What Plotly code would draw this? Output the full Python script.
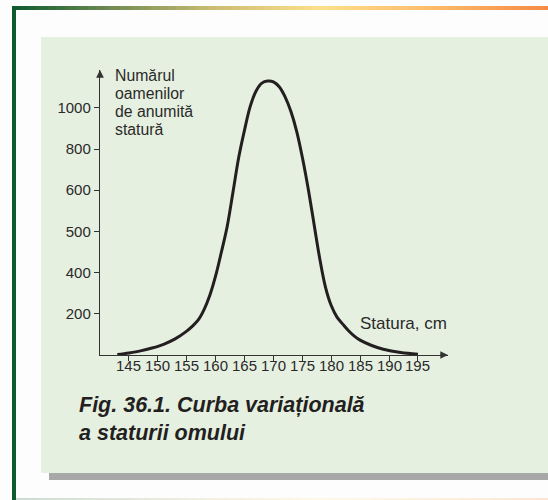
import numpy as np
import plotly.graph_objects as go

W, H = 548, 500

# Height distribution (stature in cm -> number of people)
height_cm = [143, 145, 147, 149, 151, 153, 155, 156, 157, 158,
             159, 160, 161, 162, 163, 164, 165, 166, 167, 168,
             169, 170, 171, 172, 173, 174, 175, 176, 177, 178,
             179, 180, 181, 182, 183, 184, 185, 187, 189, 192, 195]
people = [2, 10, 20, 34, 52, 78, 116, 140, 170, 220,
          290, 384, 450, 512, 595, 760, 892, 1008, 1082, 1120,
          1130, 1126, 1102, 1054, 984, 888, 760, 610, 520, 435,
          330, 240, 184, 150, 118, 92, 72, 46, 28, 12, 4]

x_ticks = [145, 150, 155, 160, 165, 170, 175, 180, 185, 190, 195]
y_ticks = [200, 400, 500, 600, 800, 1000]
# the vertical scale is drawn with evenly spaced, unevenly valued steps
scale_breaks = [0, 200, 400, 500, 600, 800, 1000, 1200]

y_title_lines = ["Numărul", "oamenilor", "de anumită", "statură"]
x_title = "Statura, cm"
caption_lines = ["Fig. 36.1. Curba variațională", "a staturii omului"]

FONT = "Liberation Sans, Arial, Helvetica, sans-serif"
INK = "#2a2a2a"


def to_axis(v):
    return np.interp(v, scale_breaks, np.arange(len(scale_breaks)))


def px(x):
    return x / W


def py(y):
    return 1 - y / H


def hex_rgb(c):
    c = c.lstrip("#")
    return [int(c[i:i + 2], 16) for i in (0, 2, 4)]


def blend(stops, x, fade=0.0):
    xs = [s[0] for s in stops]
    cols = np.array([hex_rgb(s[1]) for s in stops], dtype=float)
    rgb = [np.interp(x, xs, cols[:, k]) for k in range(3)]
    rgb = [v + (255 - v) * fade for v in rgb]
    return "rgb(%d,%d,%d)" % tuple(int(round(v)) for v in rgb)


fig = go.Figure()

fig.add_trace(go.Scatter(
    x=height_cm, y=to_axis(people), mode="lines",
    line=dict(color="#231f20", width=3, shape="spline", smoothing=1.0),
    hoverinfo="skip", showlegend=False,
))

shapes = []
# light green panel and its grey shadow
shapes.append(dict(type="rect", xref="paper", yref="paper", layer="below",
                   x0=px(49), x1=px(548), y0=py(480), y1=py(473),
                   fillcolor="#a8a8a8", line=dict(width=0)))
shapes.append(dict(type="rect", xref="paper", yref="paper", layer="below",
                   x0=px(41), x1=px(548), y0=py(473), y1=py(37),
                   fillcolor="#e6f0e0", line=dict(width=0)))

# gradient rule along the top and a faint one along the bottom
stops = [(12, "#0b5a2e"), (110, "#6f8a52"), (210, "#c9bb72"), (320, "#fde08a"),
         (440, "#fcb866"), (548, "#f58a44")]
step = 4
for x0 in range(12, W, step):
    x1 = min(x0 + step + 0.6, W)
    shapes.append(dict(type="rect", xref="paper", yref="paper", layer="below",
                       x0=px(x0), x1=px(x1), y0=py(10), y1=py(6),
                       fillcolor=blend(stops, x0 + step / 2), line=dict(width=0)))
    shapes.append(dict(type="rect", xref="paper", yref="paper", layer="below",
                       x0=px(x0), x1=px(x1), y0=py(500), y1=py(498),
                       fillcolor=blend(stops, x0 + step / 2, fade=0.78), line=dict(width=0)))
# dark green rule on the left
shapes.append(dict(type="rect", xref="paper", yref="paper", layer="below",
                   x0=px(12), x1=px(16), y0=py(500), y1=py(6),
                   fillcolor="#0d5a2f", line=dict(width=0)))

annotations = []
# axis title, set tight line by line
for i, line in enumerate(y_title_lines):
    annotations.append(dict(xref="paper", yref="paper", x=px(114), y=py(75 + 18.2 * i),
                            xanchor="left", yanchor="middle", showarrow=False,
                            borderpad=0, text=line,
                            font=dict(family=FONT, size=15.8, color=INK)))
annotations.append(dict(xref="paper", yref="paper", x=px(358), y=py(323),
                        xanchor="left", yanchor="middle", showarrow=False,
                        text=x_title, font=dict(family=FONT, size=17, color=INK)))
# horizontal tick labels sit close under the tick marks
for t in x_ticks:
    annotations.append(dict(xref="x", yref="paper", x=t, y=py(365.5),
                            xanchor="center", yanchor="middle", showarrow=False,
                            text=str(t), font=dict(family=FONT, size=15, color=INK)))
for i, line in enumerate(caption_lines):
    annotations.append(dict(xref="paper", yref="paper", x=px(77), y=py(405 + 28 * i),
                            xanchor="left", yanchor="middle", showarrow=False,
                            text="<b><i>" + line + "</i></b>",
                            font=dict(family=FONT, size=21.5, color="#231f20")))
# arrowheads at the ends of both axes
y_top = (355 - 70) / 41.2
annotations.append(dict(xref="x", yref="y", x=140, y=y_top, ax=0, ay=9, text="",
                        showarrow=True, arrowhead=2, arrowsize=1.1, arrowwidth=1.4,
                        arrowcolor="#333333"))
annotations.append(dict(xref="x", yref="y", x=200.2, y=0, ax=-9, ay=0, text="",
                        showarrow=True, arrowhead=2, arrowsize=1.1, arrowwidth=1.4,
                        arrowcolor="#333333"))

fig.update_layout(
    width=W, height=H,
    margin=dict(l=0, r=0, t=0, b=0),
    paper_bgcolor="#fdfdfd", plot_bgcolor="rgba(0,0,0,0)",
    shapes=shapes, annotations=annotations,
    xaxis=dict(domain=[px(100), px(448)], range=[140, 200.2],
               tickvals=x_ticks, showticklabels=False,
               showgrid=False, zeroline=False, showline=True,
               linecolor="#333333", linewidth=1.4,
               ticks="outside", ticklen=5, tickwidth=1.2, tickcolor="#333333"),
    yaxis=dict(domain=[py(355), py(70)], range=[0, y_top],
               tickvals=to_axis(y_ticks), ticktext=[str(t) for t in y_ticks],
               showgrid=False, zeroline=False, showline=True,
               linecolor="#333333", linewidth=1.4,
               ticks="outside", ticklen=5, tickwidth=1.2, tickcolor="#333333",
               tickfont=dict(family=FONT, size=15, color=INK)),
    font=dict(family=FONT, color=INK),
)

fig.write_html("out.html")
